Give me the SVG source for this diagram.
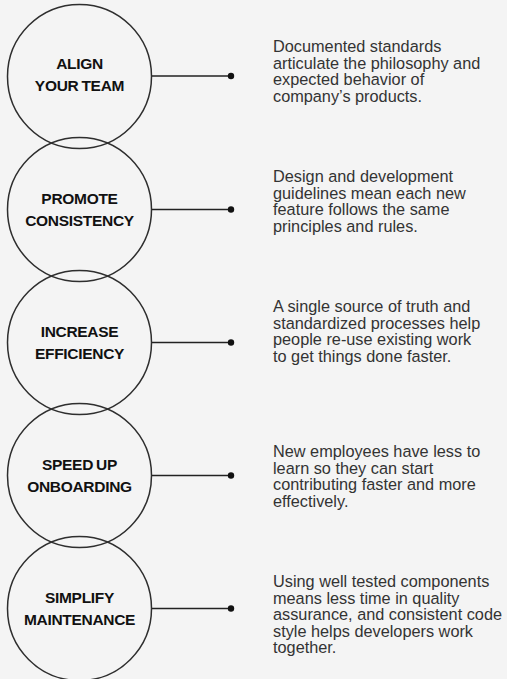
<svg xmlns="http://www.w3.org/2000/svg" width="507" height="679" viewBox="0 0 507 679">
<style>
.bg{fill:#f4f4f4}
.c{fill:none;stroke:#2e2e2e;stroke-width:1.5}
.t{font-family:"Liberation Sans",Arial,sans-serif;font-weight:bold;font-size:15.5px;letter-spacing:-0.3px;word-spacing:-1px;fill:#111;text-anchor:middle}
.d{font-family:"Liberation Sans",Arial,sans-serif;font-size:16.3px;fill:#333}
.l{stroke:#222;stroke-width:1.5}
.dot{fill:#111}
</style>
<rect class="bg" x="0" y="0" width="507" height="679"/>
<g id="connectors">
<line class="l" x1="151.5" y1="76" x2="231" y2="76"/><circle class="dot" cx="231" cy="76" r="3.2"/>
<line class="l" x1="151.5" y1="209.5" x2="231" y2="209.5"/><circle class="dot" cx="231" cy="209.5" r="3.2"/>
<line class="l" x1="151.5" y1="342.5" x2="231" y2="342.5"/><circle class="dot" cx="231" cy="342.5" r="3.2"/>
<line class="l" x1="151.5" y1="475.5" x2="231" y2="475.5"/><circle class="dot" cx="231" cy="475.5" r="3.2"/>
<line class="l" x1="151.5" y1="608.5" x2="231" y2="608.5"/><circle class="dot" cx="231" cy="608.5" r="3.2"/>
</g>
<g id="node1">
<circle class="c" cx="79.5" cy="76.5" r="72"/>
<text class="t" x="79.5" y="68.5">ALIGN</text>
<text class="t" x="79.5" y="90.5">YOUR TEAM</text>
<text class="d" x="273" y="52"><tspan x="273">Documented standards</tspan><tspan x="273" dy="16.5">articulate the philosophy and</tspan><tspan x="273" dy="16.5">expected behavior of</tspan><tspan x="273" dy="16.5">company’s products.</tspan></text>
</g>
<g id="node2">
<circle class="c" cx="79.5" cy="209.5" r="72"/>
<text class="t" x="79.5" y="203.5">PROMOTE</text>
<text class="t" x="79.5" y="225.5">CONSISTENCY</text>
<text class="d" x="273" y="182"><tspan x="273">Design and development</tspan><tspan x="273" dy="16.5">guidelines mean each new</tspan><tspan x="273" dy="16.5">feature follows the same</tspan><tspan x="273" dy="16.5">principles and rules.</tspan></text>
</g>
<g id="node3">
<circle class="c" cx="79.5" cy="342.5" r="72"/>
<text class="t" x="79.5" y="336.5">INCREASE</text>
<text class="t" x="79.5" y="358.5">EFFICIENCY</text>
<text class="d" x="273" y="312"><tspan x="273">A single source of truth and</tspan><tspan x="273" dy="16.5">standardized processes help</tspan><tspan x="273" dy="16.5">people re-use existing work</tspan><tspan x="273" dy="16.5">to get things done faster.</tspan></text>
</g>
<g id="node4">
<circle class="c" cx="79.5" cy="475.5" r="72"/>
<text class="t" x="79.5" y="469.5">SPEED UP</text>
<text class="t" x="79.5" y="491.5">ONBOARDING</text>
<text class="d" x="273" y="457"><tspan x="273">New employees have less to</tspan><tspan x="273" dy="16.5">learn so they can start</tspan><tspan x="273" dy="16.5">contributing faster and more</tspan><tspan x="273" dy="16.5">effectively.</tspan></text>
</g>
<g id="node5">
<circle class="c" cx="79.5" cy="608.5" r="72"/>
<text class="t" x="79.5" y="602.5">SIMPLIFY</text>
<text class="t" x="79.5" y="624.5">MAINTENANCE</text>
<text class="d" x="273" y="587"><tspan x="273">Using well tested components</tspan><tspan x="273" dy="16.5">means less time in quality</tspan><tspan x="273" dy="16.5">assurance, and consistent code</tspan><tspan x="273" dy="16.5">style helps developers work</tspan><tspan x="273" dy="16.5">together.</tspan></text>
</g>
</svg>
